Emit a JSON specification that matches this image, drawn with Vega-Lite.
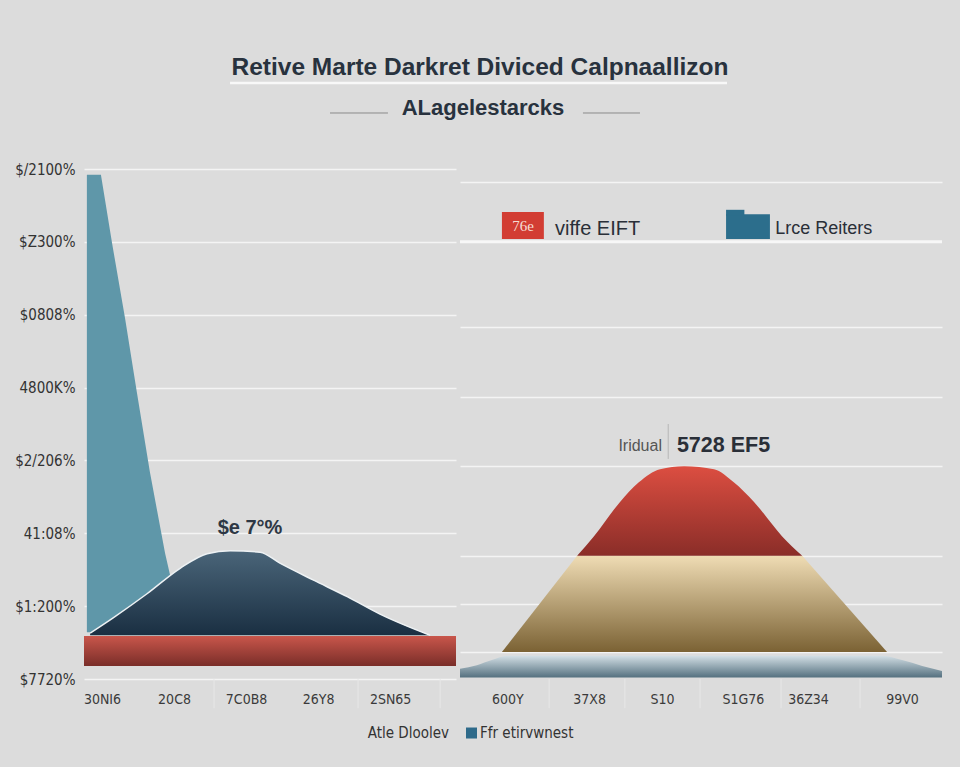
{
  "$schema": "https://vega.github.io/schema/vega-lite/v6.json",
  "background": "#dcdcdc",
  "padding": {"left": 0, "top": 0, "right": 20, "bottom": 0},
  "spacing": 0,
  "config": {
    "view": {"stroke": null},
    "font": "Liberation Sans",
    "concat": {"spacing": 0}
  },
  "datasets": {
    "leftShapes": [
      {"shape": "teal", "x": 0.58, "y": 6.92, "y2": 0.64},
      {"shape": "teal", "x": 0.97, "y": 6.92, "y2": 0.64},
      {"shape": "teal", "x": 1.28, "y": 5.98, "y2": 0.64},
      {"shape": "teal", "x": 1.64, "y": 4.95, "y2": 0.64},
      {"shape": "teal", "x": 1.97, "y": 3.93, "y2": 0.64},
      {"shape": "teal", "x": 2.33, "y": 2.84, "y2": 0.64},
      {"shape": "teal", "x": 2.75, "y": 1.73, "y2": 0.64},
      {"shape": "teal", "x": 3.17, "y": 0.82, "y2": 0.64},
      {"shape": "teal", "x": 3.28, "y": 0.64, "y2": 0.64},
      {"shape": "dark", "x": 0.67, "y": 0.63, "y2": 0.6},
      {"shape": "dark", "x": 1.31, "y": 0.84, "y2": 0.6},
      {"shape": "dark", "x": 2.25, "y": 1.17, "y2": 0.6},
      {"shape": "dark", "x": 3.17, "y": 1.52, "y2": 0.6},
      {"shape": "dark", "x": 3.92, "y": 1.72, "y2": 0.6},
      {"shape": "dark", "x": 4.56, "y": 1.76, "y2": 0.6},
      {"shape": "dark", "x": 5.39, "y": 1.74, "y2": 0.6},
      {"shape": "dark", "x": 5.94, "y": 1.59, "y2": 0.6},
      {"shape": "dark", "x": 6.86, "y": 1.36, "y2": 0.6},
      {"shape": "dark", "x": 7.81, "y": 1.13, "y2": 0.6},
      {"shape": "dark", "x": 8.72, "y": 0.89, "y2": 0.6},
      {"shape": "dark", "x": 10.11, "y": 0.6, "y2": 0.6},
      {"shape": "bar", "x": 0.5, "x2": 10.83, "y": 0.59, "y2": 0.18},
      {"shape": "sep", "x": 4.11, "y": 0, "y2": -0.4},
      {"shape": "sep", "x": 8.11, "y": 0, "y2": -0.4},
      {"shape": "sep", "x": 10.39, "y": 0, "y2": -0.4}
    ],
    "rightShapes": [
      {"shape": "blue", "x": 0, "y": 0.14, "y2": 0.02},
      {"shape": "blue", "x": 0.35, "y": 0.19, "y2": 0.02},
      {"shape": "blue", "x": 0.66, "y": 0.26, "y2": 0.02},
      {"shape": "blue", "x": 0.98, "y": 0.32, "y2": 0.02},
      {"shape": "blue", "x": 8.76, "y": 0.32, "y2": 0.02},
      {"shape": "blue", "x": 9.17, "y": 0.26, "y2": 0.02},
      {"shape": "blue", "x": 9.59, "y": 0.18, "y2": 0.02},
      {"shape": "blue", "x": 10, "y": 0.11, "y2": 0.02},
      {"shape": "tan", "x": 0.87, "y": 0.37, "y2": 0.37},
      {"shape": "tan", "x": 2.43, "y": 1.69, "y2": 0.37},
      {"shape": "tan", "x": 7.1, "y": 1.69, "y2": 0.37},
      {"shape": "tan", "x": 8.86, "y": 0.37, "y2": 0.37},
      {"shape": "red", "x": 2.43, "y": 1.69, "y2": 1.69},
      {"shape": "red", "x": 2.78, "y": 1.96, "y2": 1.69},
      {"shape": "red", "x": 3.32, "y": 2.43, "y2": 1.69},
      {"shape": "red", "x": 3.71, "y": 2.7, "y2": 1.69},
      {"shape": "red", "x": 4.15, "y": 2.88, "y2": 1.69},
      {"shape": "red", "x": 4.65, "y": 2.92, "y2": 1.69},
      {"shape": "red", "x": 5.27, "y": 2.88, "y2": 1.69},
      {"shape": "red", "x": 5.68, "y": 2.7, "y2": 1.69},
      {"shape": "red", "x": 6.1, "y": 2.43, "y2": 1.69},
      {"shape": "red", "x": 6.68, "y": 1.96, "y2": 1.69},
      {"shape": "red", "x": 7.1, "y": 1.69, "y2": 1.69},
      {"shape": "sep", "x": 1.85, "y": 0, "y2": -0.4},
      {"shape": "sep", "x": 3.42, "y": 0, "y2": -0.4},
      {"shape": "sep", "x": 4.98, "y": 0, "y2": -0.4},
      {"shape": "sep", "x": 6.66, "y": 0, "y2": -0.4},
      {"shape": "sep", "x": 8.3, "y": 0, "y2": -0.4}
    ]
  },
  "vconcat": [
    {
      "width": 856,
      "height": 162,
      "data": {"values": [{}]},
      "layer": [
        {
          "mark": {"type": "text", "text": "Retive Marte Darkret Diviced Calpnaallizon", "fontSize": 24.5, "fontWeight": "bold", "color": "#28323e", "font": "Liberation Sans"},
          "encoding": {
            "x": {"datum": 46.26, "type": "quantitative", "scale": {"domain": [0, 100]}, "axis": null},
            "y": {"datum": 42, "type": "quantitative", "scale": {"domain": [0, 100], "reverse": true}, "axis": null}
          }
        },
        {
          "mark": {"type": "rule", "color": "#f8f8f8", "strokeWidth": 2.5},
          "encoding": {
            "x": {"datum": 17.06, "type": "quantitative"},
            "x2": {"datum": 75.12},
            "y": {"datum": 51.2, "type": "quantitative"}
          }
        },
        {
          "mark": {"type": "text", "text": "ALagelestarcks", "fontSize": 22, "fontWeight": "bold", "color": "#28323e", "font": "Liberation Sans"},
          "encoding": {
            "x": {"datum": 46.61, "type": "quantitative"},
            "y": {"datum": 66.7, "type": "quantitative"}
          }
        },
        {
          "mark": {"type": "rule", "color": "#8a8a8a", "strokeWidth": 1},
          "encoding": {
            "x": {"datum": 28.74, "type": "quantitative"},
            "x2": {"datum": 35.51},
            "y": {"datum": 69.75, "type": "quantitative"}
          }
        },
        {
          "mark": {"type": "rule", "color": "#8a8a8a", "strokeWidth": 1},
          "encoding": {
            "x": {"datum": 58.29, "type": "quantitative"},
            "x2": {"datum": 64.95},
            "y": {"datum": 69.75, "type": "quantitative"}
          }
        }
      ]
    },
    {
      "hconcat": [
        {
          "width": 372,
          "height": 510,
          "data": {"name": "leftShapes"},
          "layer": [
            {
              "transform": [{"filter": "datum.shape === 'teal'"}],
              "mark": {"type": "area", "color": "#5f97a9", "opacity": 1},
              "encoding": {
                "x": {
                  "field": "x", "type": "quantitative",
                  "scale": {"domain": [0.5, 10.83], "nice": false, "zero": false},
                  "axis": {
                    "title": null, "values": [1, 3, 5, 7, 9],
                    "labelExpr": "datum.value == 1 ? '30NI6' : datum.value == 3 ? '20C8' : datum.value == 5 ? '7C0B8' : datum.value == 7 ? '26Y8' : '2SN65'",
                    "domain": false, "ticks": false, "grid": false,
                    "labelPadding": 13, "labelFontSize": 14, "labelColor": "#3a3a3a",
                    "labelFont": "Liberation Sans Narrow, DejaVu Sans Condensed, Liberation Sans, sans-serif",
                    "minExtent": 30, "maxExtent": 30
                  }
                },
                "y": {
                  "field": "y", "type": "quantitative",
                  "scale": {"domain": [0, 7], "nice": false, "zero": false},
                  "axis": {
                    "title": null, "values": [0, 1, 2, 3, 4, 5, 6, 7],
                    "labelExpr": "['$7720%', '$1:200%', '41:08%', '$2/206%', '4800K%', '$0808%', '$Z300%', '$/2100%'][datum.value]",
                    "domain": false, "ticks": false, "grid": true,
                    "gridColor": "#f4f4f4", "gridWidth": 1.5, "gridOpacity": 1,
                    "labelPadding": 9, "labelFontSize": 15, "labelColor": "#333333",
                    "labelFont": "Liberation Sans Narrow, DejaVu Sans Condensed, Liberation Sans, sans-serif",
                    "minExtent": 84, "maxExtent": 84
                  }
                },
                "y2": {"field": "y2"}
              }
            },
            {
              "transform": [{"filter": "datum.shape === 'sep'"}],
              "mark": {"type": "rule", "color": "#e7e7e7", "strokeWidth": 1},
              "encoding": {
                "x": {"field": "x", "type": "quantitative"},
                "y": {"field": "y", "type": "quantitative"},
                "y2": {"field": "y2"}
              }
            },
            {
              "transform": [{"filter": "datum.shape === 'dark'"}],
              "mark": {
                "type": "area", "interpolate": "monotone", "opacity": 1, "fillOpacity": 1,
                "color": {"gradient": "linear", "x1": 0, "y1": 0, "x2": 0, "y2": 1,
                  "stops": [{"offset": 0, "color": "#4a6579"}, {"offset": 1, "color": "#1a2f42"}]},
                "line": {"color": "#eef2f4", "strokeWidth": 1.5}
              },
              "encoding": {
                "x": {"field": "x", "type": "quantitative"},
                "y": {"field": "y", "type": "quantitative"},
                "y2": {"field": "y2"}
              }
            },
            {
              "transform": [{"filter": "datum.shape === 'bar'"}],
              "mark": {
                "type": "rect", "opacity": 1,
                "color": {"gradient": "linear", "x1": 0, "y1": 0, "x2": 0, "y2": 1,
                  "stops": [{"offset": 0, "color": "#c9564b"}, {"offset": 1, "color": "#7a2e29"}]}
              },
              "encoding": {
                "x": {"field": "x", "type": "quantitative"},
                "x2": {"field": "x2"},
                "y": {"field": "y", "type": "quantitative"},
                "y2": {"field": "y2"}
              }
            },
            {
              "data": {"values": [{}]},
              "mark": {"type": "text", "text": "$e 7°%", "fontSize": 20, "fontWeight": "bold", "color": "#2d3744"},
              "encoding": {
                "x": {"datum": 5.11, "type": "quantitative"},
                "y": {"datum": 2.07, "type": "quantitative"}
              }
            }
          ]
        },
        {
          "width": 482,
          "height": 510,
          "data": {"name": "rightShapes"},
          "layer": [
            {
              "transform": [{"filter": "datum.shape === 'blue'"}],
              "mark": {
                "type": "area", "interpolate": "monotone", "opacity": 1,
                "color": {"gradient": "linear", "x1": 0, "y1": 0, "x2": 0, "y2": 1,
                  "stops": [{"offset": 0, "color": "#d3dfe5"}, {"offset": 1, "color": "#54707f"}]}
              },
              "encoding": {
                "x": {
                  "field": "x", "type": "quantitative",
                  "scale": {"domain": [0, 10], "nice": false, "zero": false},
                  "axis": {
                    "title": null, "values": [0.98, 2.68, 4.19, 5.87, 7.22, 9.17],
                    "labelExpr": "datum.value < 2 ? '600Y' : datum.value < 3.5 ? '37X8' : datum.value < 5 ? 'S10' : datum.value < 6.5 ? 'S1G76' : datum.value < 8 ? '36Z34' : '99V0'",
                    "domain": false, "ticks": false, "grid": false,
                    "labelPadding": 13, "labelFontSize": 14, "labelColor": "#3a3a3a",
                    "labelFont": "Liberation Sans Narrow, DejaVu Sans Condensed, Liberation Sans, sans-serif",
                    "minExtent": 30, "maxExtent": 30
                  }
                },
                "y": {
                  "field": "y", "type": "quantitative",
                  "scale": {"domain": [0, 7], "nice": false, "zero": false},
                  "axis": {
                    "title": null, "values": [6.82, 4.83, 3.87, 2.92, 1.69, 1.03, 0.37],
                    "labels": false, "domain": false, "ticks": false, "grid": true,
                    "gridColor": "#f4f4f4", "gridWidth": 1.5, "gridOpacity": 1,
                    "minExtent": 0, "maxExtent": 0
                  }
                },
                "y2": {"field": "y2"}
              }
            },
            {
              "transform": [{"filter": "datum.shape === 'sep'"}],
              "mark": {"type": "rule", "color": "#e7e7e7", "strokeWidth": 1},
              "encoding": {
                "x": {"field": "x", "type": "quantitative"},
                "y": {"field": "y", "type": "quantitative"},
                "y2": {"field": "y2"}
              }
            },
            {
              "transform": [{"filter": "datum.shape === 'tan'"}],
              "mark": {
                "type": "area", "opacity": 1,
                "color": {"gradient": "linear", "x1": 0, "y1": 0, "x2": 0, "y2": 1,
                  "stops": [{"offset": 0, "color": "#efdcb4"}, {"offset": 1, "color": "#7b6234"}]}
              },
              "encoding": {
                "x": {"field": "x", "type": "quantitative"},
                "y": {"field": "y", "type": "quantitative"},
                "y2": {"field": "y2"}
              }
            },
            {
              "transform": [{"filter": "datum.shape === 'red'"}],
              "mark": {
                "type": "area", "interpolate": "monotone", "opacity": 1,
                "color": {"gradient": "linear", "x1": 0, "y1": 0, "x2": 0, "y2": 1,
                  "stops": [{"offset": 0, "color": "#dc4e41"}, {"offset": 1, "color": "#8a2d28"}]}
              },
              "encoding": {
                "x": {"field": "x", "type": "quantitative"},
                "y": {"field": "y", "type": "quantitative"},
                "y2": {"field": "y2"}
              }
            },
            {
              "data": {"values": [{}]},
              "mark": {"type": "rule", "color": "#f7f7f7", "strokeWidth": 3},
              "encoding": {
                "x": {"datum": 0, "type": "quantitative"},
                "x2": {"datum": 10},
                "y": {"datum": 6.0, "type": "quantitative"}
              }
            },
            {
              "data": {"values": [{}]},
              "mark": {"type": "rect", "color": "#d23d33", "opacity": 1},
              "encoding": {
                "x": {"datum": 0.87, "type": "quantitative"},
                "x2": {"datum": 1.74},
                "y": {"datum": 6.41, "type": "quantitative"},
                "y2": {"datum": 6.04}
              }
            },
            {
              "data": {"values": [{}]},
              "mark": {"type": "text", "text": "76e", "fontSize": 15, "color": "#f6ddd5", "font": "Liberation Serif"},
              "encoding": {
                "x": {"datum": 1.31, "type": "quantitative"},
                "y": {"datum": 6.22, "type": "quantitative"}
              }
            },
            {
              "data": {"values": [{}]},
              "mark": {"type": "text", "text": "viffe EIFT", "fontSize": 20, "align": "left", "color": "#2a2f38"},
              "encoding": {
                "x": {"datum": 1.97, "type": "quantitative"},
                "y": {"datum": 6.18, "type": "quantitative"}
              }
            },
            {
              "data": {"values": [{}]},
              "mark": {"type": "rect", "color": "#2c6e8c", "opacity": 1},
              "encoding": {
                "x": {"datum": 5.52, "type": "quantitative"},
                "x2": {"datum": 6.43},
                "y": {"datum": 6.38, "type": "quantitative"},
                "y2": {"datum": 6.04}
              }
            },
            {
              "data": {"values": [{}]},
              "mark": {"type": "rect", "color": "#2c6e8c", "opacity": 1},
              "encoding": {
                "x": {"datum": 5.52, "type": "quantitative"},
                "x2": {"datum": 5.9},
                "y": {"datum": 6.44, "type": "quantitative"},
                "y2": {"datum": 6.36}
              }
            },
            {
              "data": {"values": [{}]},
              "mark": {"type": "text", "text": "Lrce Reiters", "fontSize": 18, "align": "left", "color": "#2a2f38"},
              "encoding": {
                "x": {"datum": 6.54, "type": "quantitative"},
                "y": {"datum": 6.18, "type": "quantitative"}
              }
            },
            {
              "data": {"values": [{}]},
              "mark": {"type": "text", "text": "Iridual", "fontSize": 16, "align": "right", "color": "#555555"},
              "encoding": {
                "x": {"datum": 4.19, "type": "quantitative"},
                "y": {"datum": 3.2, "type": "quantitative"}
              }
            },
            {
              "data": {"values": [{}]},
              "mark": {"type": "rule", "color": "#b8b8b8", "strokeWidth": 1},
              "encoding": {
                "x": {"datum": 4.32, "type": "quantitative"},
                "y": {"datum": 3.5, "type": "quantitative"},
                "y2": {"datum": 3.02}
              }
            },
            {
              "data": {"values": [{}]},
              "mark": {"type": "text", "text": "5728 EF5", "fontSize": 21.5, "fontWeight": "bold", "align": "left", "color": "#2a2f38"},
              "encoding": {
                "x": {"datum": 4.5, "type": "quantitative"},
                "y": {"datum": 3.2, "type": "quantitative"}
              }
            }
          ]
        }
      ],
      "spacing": 2,
      "resolve": {"scale": {"x": "independent", "y": "independent"}}
    },
    {
      "width": 856,
      "height": 58,
      "data": {"values": [{}]},
      "layer": [
        {
          "mark": {"type": "text", "text": "Atle Dloolev", "fontSize": 15, "align": "right", "color": "#333333", "font": "Liberation Sans Narrow, DejaVu Sans Condensed, Liberation Sans, sans-serif"},
          "encoding": {
            "x": {"datum": 42.64, "type": "quantitative", "scale": {"domain": [0, 100]}, "axis": null},
            "y": {"datum": 41.4, "type": "quantitative", "scale": {"domain": [0, 100], "reverse": true}, "axis": null}
          }
        },
        {
          "mark": {"type": "square", "color": "#2e6a8a", "opacity": 1, "size": 121},
          "encoding": {
            "x": {"datum": 45.27, "type": "quantitative"},
            "y": {"datum": 41.4, "type": "quantitative"}
          }
        },
        {
          "mark": {"type": "text", "text": "Ffr etirvwnest", "fontSize": 15, "align": "left", "color": "#333333", "font": "Liberation Sans Narrow, DejaVu Sans Condensed, Liberation Sans, sans-serif"},
          "encoding": {
            "x": {"datum": 46.26, "type": "quantitative"},
            "y": {"datum": 41.4, "type": "quantitative"}
          }
        }
      ]
    }
  ],
  "resolve": {"scale": {"x": "independent", "y": "independent"}}
}
